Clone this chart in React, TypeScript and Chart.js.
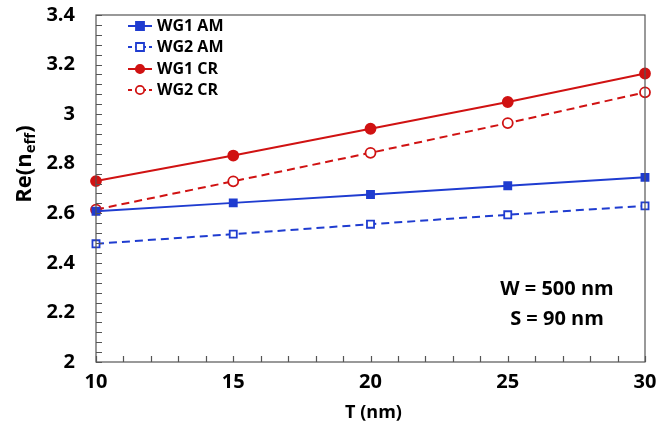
import React, { useEffect, useRef } from "react";
import { Chart, registerables } from "chart.js";

Chart.register(...registerables);

const thickness = [10, 15, 20, 25, 30];
const wg1Am = [2.608, 2.642, 2.676, 2.711, 2.745];
const wg2Am = [2.477, 2.516, 2.556, 2.594, 2.630];
const wg1Cr = [2.730, 2.833, 2.941, 3.049, 3.164];
const wg2Cr = [2.615, 2.729, 2.844, 2.964, 3.088];
const seriesNames = ["WG1 AM", "WG2 AM", "WG1 CR", "WG2 CR"];
const yTickValues = [2, 2.2, 2.4, 2.6, 2.8, 3, 3.2, 3.4];
const xTickValues = [10, 15, 20, 25, 30];
const noteLines = ["W = 500 nm", "S = 90 nm"];
const xTitle = "T (nm)";

const BLUE = "#1f3cd0";
const RED = "#d01212";
const FONT = "'Open Sans', Lato, sans-serif";

const decorPlugin = {
  id: "decor",
  afterDraw(chart: any) {
    const { ctx, chartArea: a, scales } = chart;
    const xs = scales.x;
    const ys = scales.y;
    ctx.save();
    // frame
    ctx.strokeStyle = "#555";
    ctx.lineWidth = 1.2;
    ctx.strokeRect(a.left, a.top, a.right - a.left, a.bottom - a.top);
    // inward ticks
    ctx.beginPath();
    for (let v = 2; v <= 3.4001; v += 0.04) {
      const y = Math.round(ys.getPixelForValue(v)) + 0.5;
      ctx.moveTo(a.left, y);
      ctx.lineTo(a.left + 6, y);
    }
    for (let v = 10; v <= 30; v += 1) {
      const x = Math.round(xs.getPixelForValue(v)) + 0.5;
      ctx.moveTo(x, a.bottom);
      ctx.lineTo(x, a.bottom - 6);
    }
    ctx.stroke();

    // tick labels
    ctx.fillStyle = "#000";
    ctx.font = `bold 20px ${FONT}`;
    ctx.textBaseline = "middle";
    ctx.textAlign = "right";
    yTickValues.forEach((v) => {
      ctx.fillText(String(v), 75, ys.getPixelForValue(v));
    });
    ctx.textAlign = "center";
    xTickValues.forEach((v) => {
      ctx.fillText(String(v), xs.getPixelForValue(v), 382);
    });
    ctx.font = `bold 18px ${FONT}`;
    ctx.fillText(xTitle, (a.left + a.right) / 2 + 3, 413);

    // legend
    const styles = [
      { c: BLUE, dash: false, shape: "rect", fill: true },
      { c: BLUE, dash: true, shape: "rect", fill: false },
      { c: RED, dash: false, shape: "circle", fill: true },
      { c: RED, dash: true, shape: "circle", fill: false },
    ];
    const lx = 128;
    const rowY = [26, 47, 69, 90];
    ctx.font = `bold 16px ${FONT}`;
    ctx.textAlign = "left";
    seriesNames.forEach((name, i) => {
      const s = styles[i];
      const y = rowY[i];
      ctx.strokeStyle = s.c;
      ctx.lineWidth = 2;
      ctx.setLineDash(s.dash ? [4, 3] : []);
      ctx.beginPath();
      ctx.moveTo(lx, y);
      ctx.lineTo(lx + 24, y);
      ctx.stroke();
      ctx.setLineDash([]);
      const cx = lx + 12;
      ctx.fillStyle = s.fill ? s.c : "#fff";
      ctx.lineWidth = 1.8;
      ctx.beginPath();
      if (s.shape === "rect") ctx.rect(cx - 4, y - 4, 8, 8);
      else ctx.arc(cx, y, 4.2, 0, Math.PI * 2);
      ctx.fill();
      ctx.stroke();
      ctx.fillStyle = "#000";
      ctx.fillText(name, lx + 29, y);
    });

    // annotation
    ctx.font = `bold 20px ${FONT}`;
    ctx.textAlign = "center";
    ctx.fillStyle = "#000";
    ctx.fillText(noteLines[0], 557, 289);
    ctx.fillText(noteLines[1], 557, 319);

    // y title with subscript
    ctx.save();
    ctx.translate(25, 164);
    ctx.rotate(-Math.PI / 2);
    ctx.textAlign = "left";
    ctx.textBaseline = "middle";
    const big = `bold 22px ${FONT}`;
    const small = `bold 15px ${FONT}`;
    ctx.font = big;
    const w1 = ctx.measureText("Re(n").width;
    ctx.font = small;
    const w2 = ctx.measureText("eff").width;
    ctx.font = big;
    const w3 = ctx.measureText(")").width;
    let x0 = -(w1 + w2 + w3) / 2;
    ctx.fillText("Re(n", x0, 0);
    x0 += w1;
    ctx.font = small;
    ctx.fillText("eff", x0, 6);
    x0 += w2;
    ctx.font = big;
    ctx.fillText(")", x0, 0);
    ctx.restore();

    ctx.restore();
  },
};

export default function App() {
  const ref = useRef<HTMLCanvasElement>(null);
  useEffect(() => {
    document.body.style.margin = "0";
    const mk = (label: string, data: number[], color: string, dashed: boolean, style: string, filled: boolean) => ({
      label,
      data: thickness.map((t, i) => ({ x: t, y: data[i] })),
      borderColor: color,
      backgroundColor: filled ? color : "#fff",
      borderWidth: 2,
      borderDash: dashed ? [8, 5] : [],
      pointStyle: style,
      pointRadius: 5,
      pointBorderWidth: 1.8,
      pointBorderColor: color,
      pointBackgroundColor: filled ? color : "#fff",
      fill: false,
      tension: 0,
      clip: 8,
    });
    const zeroPad = (s: any) => {
      s.paddingLeft = 0;
      s.paddingRight = 0;
      s.paddingTop = 0;
      s.paddingBottom = 0;
    };
    const chart = new Chart(ref.current!, {
      type: "line",
      data: {
        datasets: [
          mk(seriesNames[0], wg1Am, BLUE, false, "rect", true),
          mk(seriesNames[1], wg2Am, BLUE, true, "rect", false),
          mk(seriesNames[2], wg1Cr, RED, false, "circle", true),
          mk(seriesNames[3], wg2Cr, RED, true, "circle", false),
        ],
      },
      options: {
        animation: false,
        responsive: false,
        layout: { padding: { top: 15, right: 11, left: 0, bottom: 0 } },
        plugins: { legend: { display: false }, tooltip: { enabled: false } },
        scales: {
          x: {
            type: "linear",
            min: 10,
            max: 30,
            afterFit(s: any) { s.height = 70; zeroPad(s); },
            grid: { display: false, drawTicks: false },
            border: { display: false },
            ticks: { display: false },
          },
          y: {
            min: 2,
            max: 3.4,
            afterFit(s: any) { s.width = 96; zeroPad(s); },
            grid: { display: false, drawTicks: false },
            border: { display: false },
            ticks: { display: false },
          },
        },
      },
      plugins: [decorPlugin],
    });
    return () => chart.destroy();
  }, []);
  return <canvas ref={ref} width={656} height={432} style={{ display: "block" }} />;
}
